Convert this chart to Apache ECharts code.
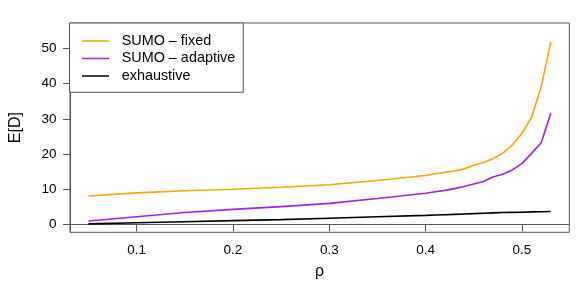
<!DOCTYPE html>
<html>
<head>
<meta charset="utf-8">
<script src="https://cdn.jsdelivr.net/npm/echarts@6/dist/echarts.min.js"></script>
<style>html,body{margin:0;padding:0;background:#fff}#c{width:581px;height:291px}</style>
</head>
<body>
<div id="c"></div>
<script>
const rho = [0.05,0.10,0.15,0.20,0.25,0.30,0.35,0.40,0.41,0.42,0.43,0.44,0.45,0.46,0.47,0.48,0.49,0.50,0.51,0.52,0.53];
const sumoFixed = [8.1,9.0,9.6,10.0,10.6,11.3,12.5,13.9,14.4,14.8,15.2,15.8,16.8,17.6,18.7,20.2,22.6,25.9,30.4,39.1,51.8];
const sumoAdaptive = [1.0,2.2,3.4,4.3,5.1,6.0,7.4,8.9,9.3,9.7,10.2,10.8,11.5,12.2,13.5,14.3,15.5,17.3,20.2,23.2,31.6];
const exhaustive = [0.2,0.5,0.8,1.1,1.4,1.8,2.2,2.6,2.7,2.8,2.9,3.0,3.1,3.2,3.3,3.4,3.45,3.5,3.6,3.65,3.7];
const seriesNames = ['SUMO – fixed','SUMO – adaptive','exhaustive'];
const xTicks = [0.1,0.2,0.3,0.4,0.5];
const yTicks = [0,10,20,30,40,50];

const FONT = 'Liberation Sans, Arial, Helvetica, sans-serif';
const chart = echarts.init(document.getElementById('c'), null, {renderer:'canvas'});
const pair = arr => rho.map((x,i)=>[x,arr[i]]);
const colors = ['#FFA500','#A020F0','#000000'];
const datas = [sumoFixed, sumoAdaptive, exhaustive];
chart.setOption({
  animation:false,
  backgroundColor:'#fff',
  grid:{left:69.5,right:11.7,top:23,bottom:58.7,show:true,borderColor:'#555',borderWidth:1,backgroundColor:'transparent'},
  legend:{
    orient:'vertical',left:69.5,top:23,
    data:seriesNames,
    icon:'rect',itemWidth:27,itemHeight:1.5,itemGap:0,
    padding:[9.25,8,7.5,12.5],
    borderColor:'#555',borderWidth:1,backgroundColor:'#fff',
    textStyle:{fontFamily:FONT,fontSize:14.4,lineHeight:17.5,color:'#000',padding:[0,0,0,7.7]}
  },
  xAxis:{
    type:'value',min:0.0308,max:0.5492,
    name:'ρ',nameLocation:'middle',nameGap:31,
    nameTextStyle:{fontFamily:FONT,fontSize:16,color:'#000'},
    axisLine:{show:true,lineStyle:{color:'#555',width:1}},
    axisTick:{show:true,inside:false,length:7,customValues:xTicks,lineStyle:{color:'#555'}},
    axisLabel:{customValues:xTicks,fontFamily:FONT,fontSize:13.5,color:'#000',margin:10.5,formatter:v=>String(v)},
    splitLine:{show:false}
  },
  yAxis:{
    type:'value',min:-2.2,max:57.2,
    name:'E[D]',nameLocation:'middle',nameGap:46,
    nameTextStyle:{fontFamily:FONT,fontSize:16,color:'#000'},
    axisLine:{show:true,lineStyle:{color:'#555',width:1}},
    axisTick:{show:true,inside:false,length:7,customValues:yTicks,lineStyle:{color:'#555'}},
    axisLabel:{customValues:yTicks,fontFamily:FONT,fontSize:13.5,color:'#000',margin:13.5,formatter:v=>String(v)},
    splitLine:{show:false}
  },
  series: seriesNames.map((n,i)=>({
    name:n,type:'line',data:pair(datas[i]),
    showSymbol:false,symbol:'none',
    lineStyle:{color:colors[i],width:1.6},
    itemStyle:{color:colors[i]},
    z:2
  }))
});
</script>
</body>
</html>
